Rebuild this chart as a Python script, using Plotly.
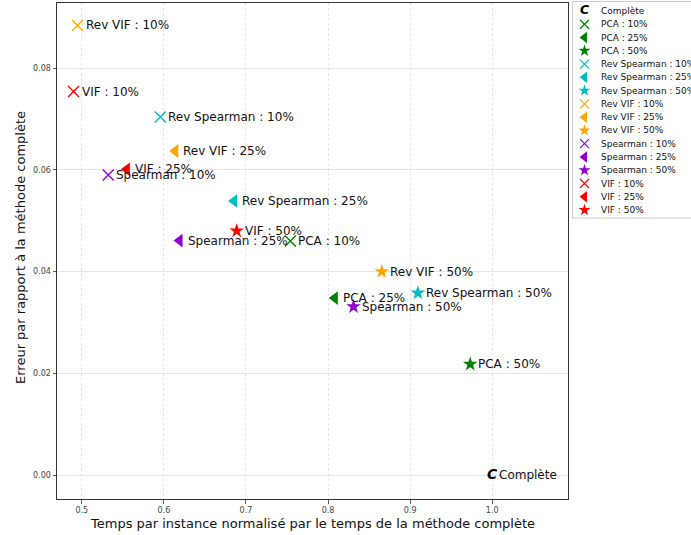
import plotly.graph_objects as go

# ---------------- data ----------------
methods = ["PCA", "Rev Spearman", "Rev VIF", "Spearman", "VIF"]
levels = ["10%", "25%", "50%"]
colors = ["#008000", "#00BFBF", "#FFA500", "#9400D3", "#FF0000"]

pca_time = [0.7541, 0.8082, 0.9732]
pca_err = [0.0460, 0.0348, 0.0218]
rev_spearman_time = [0.5956, 0.6856, 0.9094]
rev_spearman_err = [0.0704, 0.0539, 0.0358]
rev_vif_time = [0.4948, 0.6139, 0.8655]
rev_vif_err = [0.0884, 0.0637, 0.0400]
spearman_time = [0.5322, 0.6191, 0.8310]
spearman_err = [0.0590, 0.0461, 0.0331]
vif_time = [0.4899, 0.5549, 0.6887]
vif_err = [0.0754, 0.0601, 0.0480]

complete_time = [1.0]
complete_err = [0.0]
complete_name = "Complète"

times = [pca_time, rev_spearman_time, rev_vif_time, spearman_time, vif_time]
errs = [pca_err, rev_spearman_err, rev_vif_err, spearman_err, vif_err]

x_ticks = [0.5, 0.6, 0.7, 0.8, 0.9, 1.0]
y_ticks = [0.00, 0.02, 0.04, 0.06, 0.08]

x_title = "Temps par instance normalisé par le temps de la méthode complète"
y_title = "Erreur par rapport à la méthode complète"

# ---------------- styling ----------------
FONT = "DejaVu Sans"
W, H = 691, 535
ML, MB = 57, 36
PLOT_RIGHT = 568
PLOT_TOP = 3
paper_w = W - ML
paper_h = H - MB
main_xdom = (PLOT_RIGHT - ML) / paper_w
main_ydom = (paper_h - PLOT_TOP) / paper_h

symbols = ["x-thin-open", "triangle-left", "star"]
sizes = [11, 12, 11]
leg_sizes = [9, 10, 9]
LABEL_SIZE = 12

fig = go.Figure()
annotations = []

for m, method in enumerate(methods):
    for k, lev in enumerate(levels):
        label = f"{method} : {lev}"
        sym = symbols[k]
        mk = dict(symbol=sym, size=sizes[k], color=colors[m],
                  line=dict(width=1.4 if k == 0 else 0, color=colors[m]))
        fig.add_trace(go.Scatter(
            x=[times[m][k]], y=[errs[m][k]], mode="markers", marker=mk,
            name=label, showlegend=False, cliponaxis=False,
            xaxis="x", yaxis="y"))
        annotations.append(dict(
            x=times[m][k], y=errs[m][k], xref="x", yref="y", text=label,
            showarrow=False, xanchor="left", yanchor="middle", xshift=6,
            font=dict(family=FONT, size=LABEL_SIZE, color="#111111")))

# Complète marker (bold italic C)
fig.add_trace(go.Scatter(
    x=complete_time, y=complete_err, mode="text",
    text=["<b><i>C</i></b>"], textposition="middle center",
    textfont=dict(family=FONT, size=14, color="black"),
    showlegend=False, cliponaxis=False, xaxis="x", yaxis="y"))
annotations.append(dict(
    x=complete_time[0], y=complete_err[0], xref="x", yref="y",
    text=complete_name, showarrow=False, xanchor="left", yanchor="middle",
    xshift=5, font=dict(family=FONT, size=LABEL_SIZE, color="#111111")))

# ---------------- custom legend (helper axes in pixel units) ----------------
leg_names = [complete_name] + [f"{m} : {l}" for m in methods for l in levels]
row0, row_step = 11.0, 13.27
leg_x_marker, leg_x_text = 584.5, 598.5
fig.add_shape(type="rect", xref="x2", yref="y2", x0=572.5, x1=720,
              y0=1.5, y1=218, line=dict(color="#cccccc", width=1),
              fillcolor="rgba(255,255,255,0.8)", layer="below")
fig.add_trace(go.Scatter(
    x=[leg_x_marker], y=[row0], mode="text", text=["<b><i>C</i></b>"],
    textfont=dict(family=FONT, size=12.5, color="black"),
    showlegend=False, xaxis="x2", yaxis="y2", cliponaxis=False))
idx = 1
for m, method in enumerate(methods):
    for k, lev in enumerate(levels):
        fig.add_trace(go.Scatter(
            x=[leg_x_marker], y=[row0 + row_step * idx], mode="markers",
            marker=dict(symbol=symbols[k], size=leg_sizes[k], color=colors[m],
                        line=dict(width=1.2 if k == 0 else 0, color=colors[m])),
            showlegend=False, xaxis="x2", yaxis="y2", cliponaxis=False))
        idx += 1
for i, nm in enumerate(leg_names):
    annotations.append(dict(
        x=leg_x_text, y=row0 + row_step * i, xref="x2", yref="y2", text=nm,
        showarrow=False, xanchor="left", yanchor="middle",
        font=dict(family=FONT, size=9, color="#111111")))

# axis titles
annotations.append(dict(
    x=((ML + PLOT_RIGHT) / 2 - ML) / paper_w, y=0, xref="paper", yref="paper",
    text=x_title, showarrow=False, xanchor="center", yanchor="middle",
    yshift=-24, font=dict(family=FONT, size=13, color="#111111")))
annotations.append(dict(
    x=0, y=(paper_h - 248) / paper_h, xref="paper", yref="paper",
    text=y_title, showarrow=False, xanchor="center", yanchor="middle",
    xshift=-37, textangle=-90, font=dict(family=FONT, size=13, color="#111111")))

axis_common = dict(showline=True, linecolor="#333333", linewidth=1, mirror=True,
                   ticks="outside", ticklen=3.5, tickwidth=0.8, tickcolor="#333333",
                   zeroline=False, tickfont=dict(family=FONT, size=8, color="#444444"))

fig.update_layout(
    width=W, height=H,
    margin=dict(l=ML, r=0, t=0, b=MB, autoexpand=False),
    paper_bgcolor="white", plot_bgcolor="white",
    showlegend=False, hovermode=False,
    font=dict(family=FONT),
    xaxis=dict(domain=[0, main_xdom], range=[0.4698, 1.0923],
               tickvals=x_ticks, ticktext=[f"{v:.1f}" for v in x_ticks],
               showgrid=True, gridcolor="#e0e0e0", gridwidth=0.8, griddash="3px,2px",
               anchor="y", **axis_common),
    yaxis=dict(domain=[0, main_ydom], range=[-0.0047, 0.0928],
               tickvals=y_ticks, ticktext=[f"{v:.2f}" for v in y_ticks],
               showgrid=True, gridcolor="#dddddd", gridwidth=0.8,
               anchor="x", **axis_common),
    xaxis2=dict(domain=[main_xdom, 1], range=[PLOT_RIGHT, W], visible=False,
                anchor="y2", fixedrange=True),
    yaxis2=dict(domain=[0, 1], range=[paper_h, 0], visible=False,
                anchor="x2", fixedrange=True),
    annotations=annotations,
)

fig.write_html("out.html", config={"displayModeBar": False, "staticPlot": True},
               post_script="document.body.style.margin='0';document.body.style.overflow='hidden';")
